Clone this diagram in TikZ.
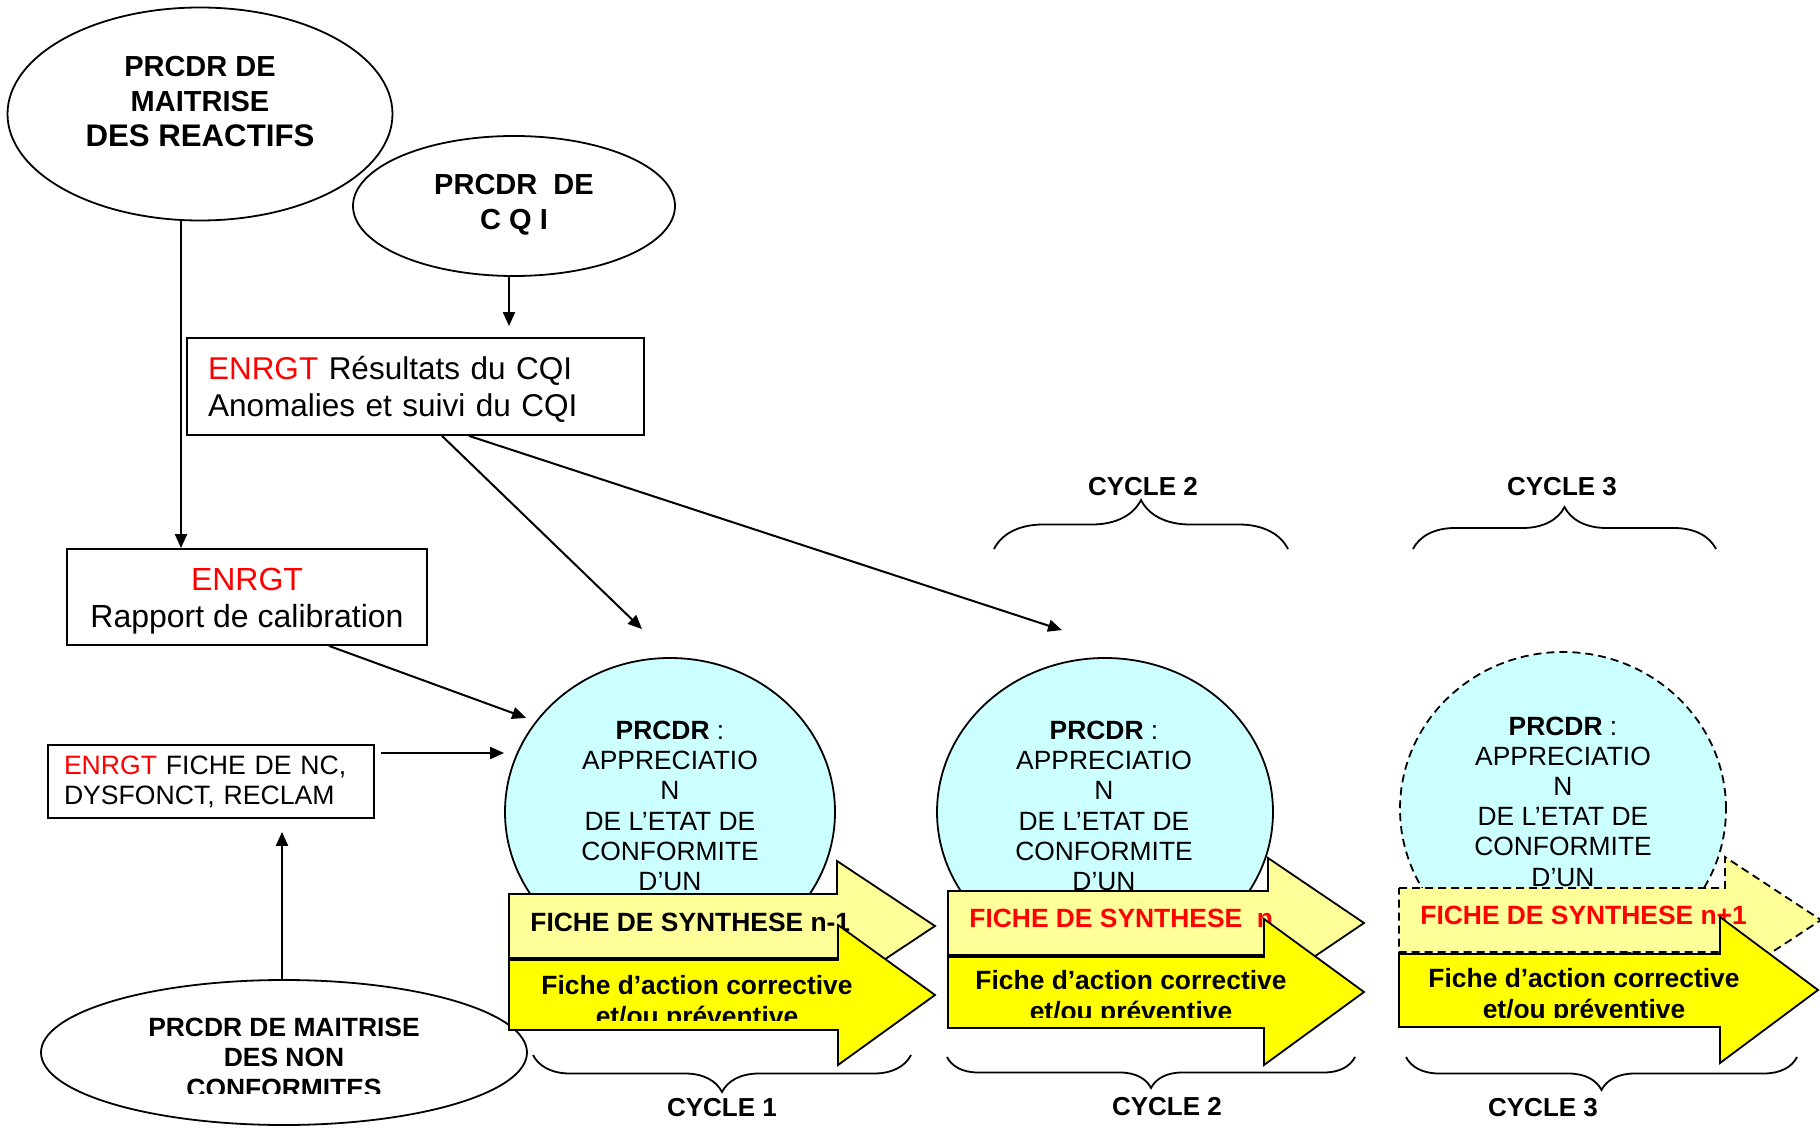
\documentclass[tikz,border=0pt]{standalone}
\usepackage{fontspec}
\setmainfont{Liberation Sans}
\usetikzlibrary{arrows.meta,shapes.geometric,decorations.pathreplacing}
\definecolor{lcyan}{HTML}{CCFFFF}
\definecolor{lyellow}{HTML}{FFFF99}
\definecolor{fyellow}{HTML}{FFFF00}

\begin{document}
\begin{tikzpicture}[x=0.5pt, y=-0.5pt, >={Triangle[length=7pt,width=6pt]},
    ell/.style={ellipse, draw, line width=0.9pt, inner sep=0pt},
    box/.style={rectangle, draw, line width=0.9pt, inner ysep=0pt},
    circ/.style={ellipse, draw, line width=0.9pt, fill=lcyan, inner sep=0pt},
    etxt/.style={align=center, inner sep=0pt, font=\fontsize{14.5pt}{17.5pt}\selectfont\bfseries},
    ctxt/.style={align=center, inner sep=0pt, font=\fontsize{13.2pt}{15.1pt}\selectfont},
    synth/.style={draw, line width=0.9pt, fill=lyellow},
    action/.style={draw, line width=0.9pt, fill=fyellow},
    atxt/.style={inner sep=0pt, font=\fontsize{13.2pt}{15.5pt}\selectfont\bfseries},
    cyc/.style={inner sep=0pt, font=\fontsize{13pt}{15pt}\selectfont\bfseries},
    brace/.style={decorate, line width=0.9pt},
    link/.style={->, line width=1pt},
    dashline/.style={dash pattern=on 4pt off 2.5pt}]

\useasboundingbox (0,0) rectangle (1820,1128);

% procedures
\node[ell, minimum width=192.5pt, minimum height=106.5pt] (reac) at (200,114) {};
\node[etxt] (react) at (200,102) {PRCDR DE\\MAITRISE\\\fontsize{15.6pt}{17.5pt}\selectfont DES REACTIFS};
\node[ell, minimum width=161pt, minimum height=70pt] (cqi) at (514,206) {};
\node[etxt] (cqit) at (514,204.5) {PRCDR~~DE\\C Q I};

% records
\node[box, text width=207.5pt, inner xsep=10.5pt, minimum height=48.5pt, align=left,
      font=\fontsize{15.75pt}{18.5pt}\selectfont] (res) at (415.5,386.5)
      {\textcolor{red}{ENRGT}\rule{0pt}{14.5pt} Résultats du CQI\\Anomalies et suivi du CQI};
\node[box, minimum width=180pt, minimum height=48pt, align=center,
      font=\fontsize{16pt}{18.5pt}\selectfont] (cal) at (247,597)
      {\textcolor{red}{ENRGT}\rule{0pt}{15pt}\\Rapport de calibration};
\node[box, text width=147pt, inner xsep=8pt, minimum height=36.5pt, align=left,
      font=\fontsize{13.3pt}{15pt}\selectfont] (nc) at (211,781.5)
      {\textcolor{red}{ENRGT} FICHE DE NC,\\DYSFONCT, RECLAM};

\node[ell, minimum width=243pt, minimum height=72.5pt] (nonc) at (284,1052.5) {};
\begin{scope}
  \clip (40,990) rectangle (530,1093);
  \node[etxt, font=\fontsize{13.2pt}{15.25pt}\selectfont\bfseries] (nonct) at (284,1057.5)
    {PRCDR DE MAITRISE\\DES NON\\CONFORMITES};
\end{scope}

% appraisal
\node[circ, minimum width=165pt, minimum height=154pt] (c1) at (670,812) {};
\node[ctxt] (c1t) at (670,806) {\textbf{PRCDR} :\\APPRECIATIO\\N\\DE L’ETAT DE\\CONFORMITE\\D’UN};
\node[circ, minimum width=168pt, minimum height=154pt] (c2) at (1105,812) {};
\node[ctxt] (c2t) at (1104,806) {\textbf{PRCDR} :\\APPRECIATIO\\N\\DE L’ETAT DE\\CONFORMITE\\D’UN};
\node[circ, dashline, minimum width=163pt, minimum height=157pt] (c3) at (1563,809) {};
\node[ctxt] (c3t) at (1563,801.5) {\textbf{PRCDR} :\\APPRECIATIO\\N\\DE L’ETAT DE\\CONFORMITE\\D’UN};

% cycle 1
\draw[synth] (509,894) -- (837,894) -- (837,861) -- (935,926) -- (837,991) -- (837,958) -- (509,958) -- cycle;
\node[atxt, anchor=west] (syn1) at (530,922) {FICHE DE SYNTHESE n-1};
\draw[action] (509,960) -- (838,960) -- (838,925) -- (935,995) -- (838,1065) -- (838,1030) -- (509,1030) -- cycle;
\begin{scope}
  \clip (509,960) rectangle (935,1020);
  \node[atxt, align=center] (act1) at (697,1003) {Fiche d’action corrective\\et/ou préventive};
\end{scope}

% cycle 2
\draw[synth] (948,891) -- (1268,891) -- (1268,858) -- (1364,923) -- (1268,988) -- (1268,955) -- (948,955) -- cycle;
\node[atxt, anchor=west, text=red] (syn2) at (969,918) {FICHE DE SYNTHESE~~n};
\draw[action] (948,957) -- (1264,957) -- (1264,919) -- (1364,992) -- (1264,1065) -- (1264,1028) -- (948,1028) -- cycle;
\begin{scope}
  \clip (948,957) rectangle (1364,1017);
  \node[atxt, align=center] (act2) at (1131,998.6) {Fiche d’action corrective\\et/ou préventive};
\end{scope}

% cycle 3
\draw[synth, dashline] (1399,888) -- (1725,888) -- (1725,857) -- (1821,920) -- (1725,983) -- (1725,952) -- (1399,952) -- cycle;
\node[atxt, anchor=west, text=red] (syn3) at (1420,915) {FICHE DE SYNTHESE n+1};
\draw[action] (1399,954) -- (1720,954) -- (1720,917) -- (1818,990) -- (1720,1063) -- (1720,1027) -- (1399,1027) -- cycle;
\begin{scope}
  \clip (1399,954) rectangle (1818,1017);
  \node[atxt, align=center] (act3) at (1584,996) {Fiche d’action corrective\\et/ou préventive};
\end{scope}

% braces
\draw[brace, decoration={brace, mirror, amplitude=18.5pt}] (533,1055) -- (911,1055);
\draw[brace, decoration={brace, mirror, amplitude=15.5pt}] (947,1057) -- (1355,1057);
\draw[brace, decoration={brace, mirror, amplitude=16.5pt}] (1406,1057) -- (1797,1057);
\draw[brace, decoration={brace, amplitude=24.5pt}] (994,549) -- (1288,549);
\draw[brace, decoration={brace, amplitude=21pt}] (1413,549) -- (1716,549);
\node[cyc] (cyc1) at (722,1108) {CYCLE 1};
\node[cyc] (cyc2) at (1167,1107) {CYCLE 2};
\node[cyc] (cyc3) at (1543,1108) {CYCLE 3};
\node[cyc] (top2) at (1143,487) {CYCLE 2};
\node[cyc] (top3) at (1562,487) {CYCLE 3};

% links
\draw[link, shorten >=5.5pt] ([xshift=-2.5pt]cqi.south) -- ([xshift=-2.5pt]cqi.south |- res.north);
\draw[link] ([xshift=-9.5pt]reac.south) -- ([xshift=-9.5pt]reac.south |- cal.north);
\draw[link] ([xshift=3pt,yshift=14.25pt]nc.east) -- ([yshift=14.25pt]nc.east -| c1.west);
\draw[link, shorten >=6.5pt] ([xshift=-1pt]nonc.north) -- ([xshift=-1pt]nonc.north |- nc.south);
\draw[link, shorten >=5pt] ([xshift=41pt]cal.south) -- (c1.146);
\draw[link] ([xshift=13.25pt]res.south) -- ([xshift=-14pt,yshift=14pt]c1.north);
\draw[link] ([xshift=26.75pt]res.south) -- ([xshift=-21.5pt,yshift=13.5pt]c2.north);
\end{tikzpicture}
\end{document}
